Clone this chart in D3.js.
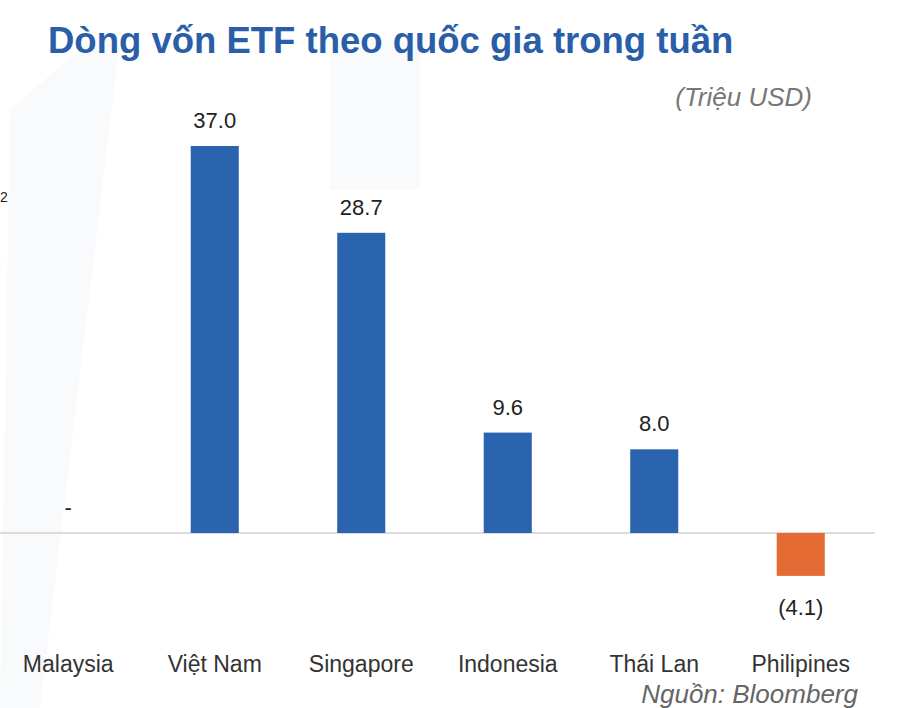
<!DOCTYPE html>
<html><head><meta charset="utf-8">
<script src="https://cdn.jsdelivr.net/npm/d3@7"></script>
<style>body{margin:0;background:#fff;font-family:"Liberation Sans",Arial,sans-serif}</style>
</head><body>
<script>
var categories = ["Malaysia", "Việt Nam", "Singapore", "Indonesia", "Thái Lan", "Philipines"];
var values = [0, 37.0, 28.7, 9.6, 8.0, -4.1];
var valueLabels = ["-", "37.0", "28.7", "9.6", "8.0", "(4.1)"];

var svg = d3.select("body").append("svg").attr("width", 900).attr("height", 708);

// faint watermark
svg.append("path").attr("d", "M10 110 L90 40 L120 40 L40 708 L0 708 Z").attr("fill", "#f9fafb");
svg.append("path").attr("d", "M330 40 L420 40 L420 190 L330 190 Z").attr("fill", "#f9fafb");

var x = d3.scaleBand().domain(categories).range([-5, 874]).paddingInner(0.672).paddingOuter(0.336);
var y = d3.scaleLinear().domain([0, 37]).range([533, 146]);

svg.append("line").attr("x1", 0).attr("x2", 875).attr("y1", y(0)).attr("y2", y(0))
  .attr("stroke", "#d0d0d0").attr("stroke-width", 1.5);

svg.selectAll("rect.bar").data(values).enter().append("rect")
  .attr("x", function(d, i) { return x(categories[i]); })
  .attr("width", x.bandwidth())
  .attr("y", function(d) { return y(Math.max(d, 0)); })
  .attr("height", function(d) { return Math.abs(y(d) - y(0)); })
  .attr("fill", function(d) { return d < 0 ? "#e46b34" : "#2a63ae"; });

svg.selectAll("text.val").data(values).enter().append("text")
  .attr("x", function(d, i) { return x(categories[i]) + x.bandwidth() / 2; })
  .attr("y", function(d) { return d < 0 ? y(d) + 39 : (d === 0 ? y(0) - 18 : y(d) - 18); })
  .attr("text-anchor", "middle").attr("font-size", 22).attr("fill", "#222")
  .text(function(d, i) { return valueLabels[i]; });

svg.selectAll("text.cat").data(categories).enter().append("text")
  .attr("x", function(d) { return x(d) + x.bandwidth() / 2; })
  .attr("y", 672).attr("text-anchor", "middle").attr("font-size", 23).attr("fill", "#333")
  .text(function(d) { return d; });

svg.append("text").attr("x", 48).attr("y", 53).attr("font-size", 36.5).attr("font-weight", "bold")
  .attr("fill", "#2a5ea8").text("Dòng vốn ETF theo quốc gia trong tuần");
svg.append("text").attr("x", 812).attr("y", 106).attr("text-anchor", "end").attr("font-size", 26)
  .attr("font-style", "italic").attr("fill", "#777").text("(Triệu USD)");
svg.append("text").attr("x", 858).attr("y", 703).attr("text-anchor", "end").attr("font-size", 26)
  .attr("font-style", "italic").attr("fill", "#666").text("Nguồn: Bloomberg");
svg.append("text").attr("x", 0).attr("y", 202).attr("font-size", 14).attr("fill", "#222").text("2");
</script>
</body></html>
